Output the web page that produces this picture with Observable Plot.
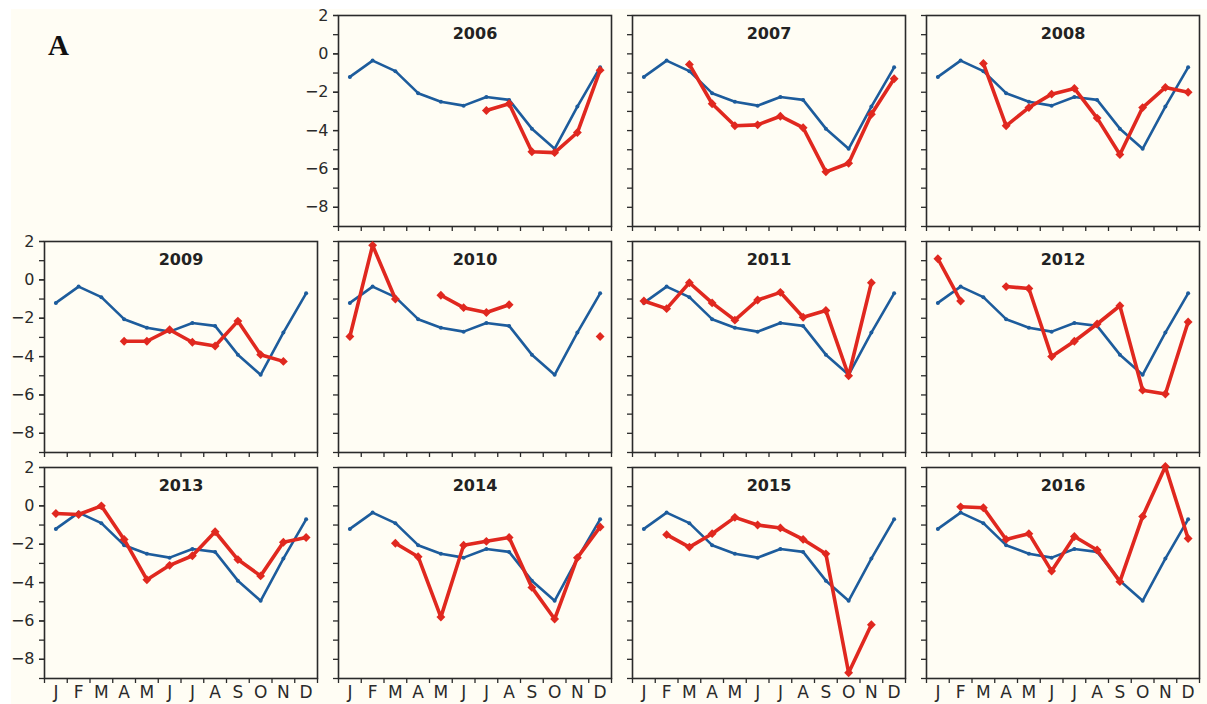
<!DOCTYPE html>
<html>
<head>
<meta charset="utf-8">
<script src="https://cdn.jsdelivr.net/npm/d3@7"></script>
<script src="https://cdn.jsdelivr.net/npm/@observablehq/plot@0.6"></script>
<style>
  body { margin: 0; background: #ffffff; width: 1207px; height: 704px; overflow: hidden; position: relative; }
  #bg { position: absolute; left: 11px; top: 9px; right: 0; bottom: 0; background: #fffdf4; }
  #chart { position: absolute; left: 0; top: 0; }
  #panelLabel { position: absolute; left: 48px; top: 31px; font: bold 29px "Liberation Serif", serif; line-height: 1; color: #111; }
</style>
</head>
<body>
<div id="bg"></div>
<div id="chart"></div>
<div id="panelLabel">A</div>
<script>
// ---- Data ----
const months = ["J", "F", "M", "A", "M", "J", "J", "A", "S", "O", "N", "D"];
const years = [2006, 2007, 2008, 2009, 2010, 2011, 2012, 2013, 2014, 2015, 2016];
const yTickLabels = [-8, -6, -4, -2, 0, 2];

// Blue: climatological mean (same in every panel)
const climatology = [-1.2, -0.35, -0.9, -2.05, -2.5, -2.7, -2.25, -2.4, -3.9, -4.95, -2.75, -0.7];

// Red: individual years (null = no data)
const y2006 = [null, null, null, null, null, null, -2.95, -2.6, -5.1, -5.15, -4.1, -0.85];
const y2007 = [null, null, -0.55, -2.6, -3.75, -3.7, -3.25, -3.85, -6.15, -5.7, -3.15, -1.3];
const y2008 = [null, null, -0.5, -3.75, -2.8, -2.1, -1.8, -3.35, -5.25, -2.8, -1.75, -2.0];
const y2009 = [null, null, null, -3.2, -3.2, -2.6, -3.25, -3.45, -2.15, -3.9, -4.25, null];
const y2010 = [-2.95, 1.8, -1.0, null, -0.8, -1.45, -1.7, -1.3, null, null, null, -2.95];
const y2011 = [-1.1, -1.5, -0.15, -1.2, -2.1, -1.05, -0.65, -1.95, -1.6, -5.0, -0.15, null];
const y2012 = [1.1, -1.1, null, -0.35, -0.45, -4.0, -3.2, -2.3, -1.35, -5.75, -5.95, -2.2];
const y2013 = [-0.4, -0.45, 0.0, -1.75, -3.85, -3.1, -2.6, -1.35, -2.8, -3.65, -1.9, -1.65];
const y2014 = [null, null, -1.95, -2.65, -5.8, -2.05, -1.85, -1.65, -4.25, -5.9, -2.7, -1.1];
const y2015 = [null, -1.5, -2.15, -1.45, -0.6, -1.0, -1.15, -1.75, -2.5, -8.7, -6.2, null];
const y2016 = [null, -0.05, -0.1, -1.75, -1.45, -3.4, -1.6, -2.3, -3.95, -0.55, 2.05, -1.7];

const yearSeries = [y2006, y2007, y2008, y2009, y2010, y2011, y2012, y2013, y2014, y2015, y2016];

// ---- Build tables ----
// grid cell: first cell (row 0, col 0) is left empty
const panels = years.map((year, i) => ({ year, col: (i + 1) % 4, row: Math.floor((i + 1) / 4) }));

const blueData = [];
const redData = [];
panels.forEach((p, i) => {
  climatology.forEach((v, m) => blueData.push({ year: p.year, col: p.col, row: p.row, month: m + 1, value: v }));
  yearSeries[i].forEach((v, m) => redData.push({ year: p.year, col: p.col, row: p.row, month: m + 1, value: v == null ? NaN : v }));
});

const BLUE = "#1d5c9c";
const RED = "#e0281f";
const INK = "#2a2a2a";

const chart = Plot.plot({
  width: 1207,
  height: 704,
  marginLeft: 43,
  marginRight: 7,
  marginTop: 15,
  marginBottom: 25,
  style: { background: "transparent", fontFamily: "DejaVu Sans, sans-serif", color: INK, overflow: "visible" },
  fx: { domain: [0, 1, 2, 3], padding: 0.07, axis: null },
  fy: { domain: [0, 1, 2], padding: 0.065, axis: null },
  x: { domain: [0.5, 12.5], label: null },
  y: { domain: [-9, 2], label: null },
  marks: [
    Plot.frame({ stroke: INK, strokeWidth: 1.6 }),
    Plot.axisY({ ticks: d3.range(-9, 3), tickSize: 5, tickFormat: () => "", label: null, facetAnchor: null, stroke: INK, strokeWidth: 1.3 }),
    Plot.axisY({ ticks: yTickLabels, tickSize: 5, tickPadding: 5, label: null, facetAnchor: "left-empty", fontSize: 16, fill: INK, stroke: INK, strokeWidth: 1.3 }),
    Plot.axisX({ ticks: d3.range(0.5, 13, 1), tickSize: 5, tickFormat: () => "", label: null, facetAnchor: null, stroke: INK, strokeWidth: 1.3 }),
    Plot.axisX({ ticks: d3.range(1, 13), tickSize: 0, tickPadding: 7, tickFormat: (i) => months[i - 1], label: null, facetAnchor: "bottom", fontSize: 17, fill: INK }),
    Plot.text(panels, { fx: "col", fy: "row", text: (d) => String(d.year), frameAnchor: "top", lineAnchor: "middle", dy: 18, fontWeight: "bold", fontSize: 16, fill: "#222" }),
    Plot.line(blueData, { fx: "col", fy: "row", x: "month", y: "value", z: "year", stroke: BLUE, strokeWidth: 2.6 }),
    Plot.dot(blueData, { fx: "col", fy: "row", x: "month", y: "value", r: 2, fill: BLUE }),
    Plot.line(redData, { fx: "col", fy: "row", x: "month", y: "value", z: "year", stroke: RED, strokeWidth: 3.6 }),
    Plot.dot(redData, { fx: "col", fy: "row", x: "month", y: "value", symbol: "diamond2", r: 4, fill: RED })
  ]
});

document.getElementById("chart").appendChild(chart);
</script>
</body>
</html>
